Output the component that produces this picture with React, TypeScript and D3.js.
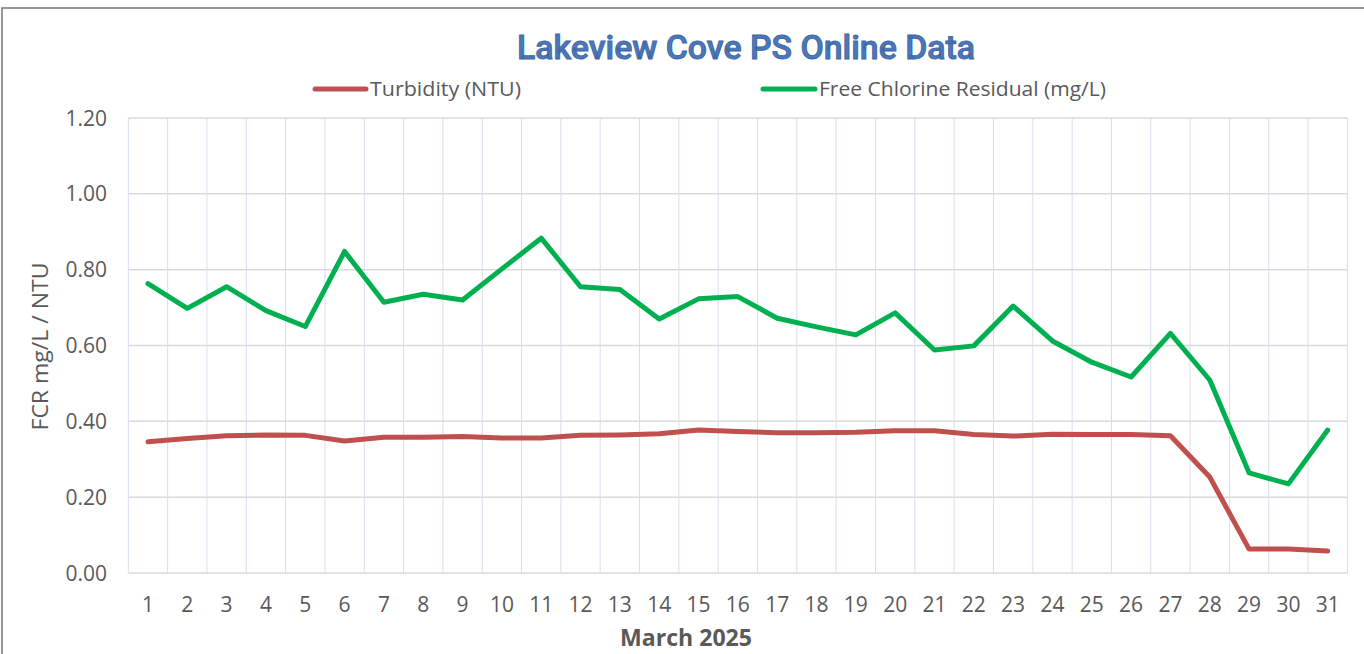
import * as d3 from "d3";

const days = d3.range(1, 32).map(String);

const turbidity = [
  0.346, 0.355, 0.362, 0.364, 0.363, 0.348, 0.358, 0.358, 0.36, 0.356, 0.356,
  0.363, 0.364, 0.367, 0.377, 0.373, 0.37, 0.37, 0.371, 0.375, 0.375, 0.365,
  0.361, 0.366, 0.365, 0.365, 0.362, 0.253, 0.063, 0.063, 0.058,
];

const chlorine = [
  0.763, 0.698, 0.755, 0.692, 0.65, 0.848, 0.714, 0.735, 0.72, 0.802, 0.883,
  0.755, 0.748, 0.67, 0.723, 0.729, 0.672, 0.649, 0.628, 0.686, 0.588, 0.599,
  0.704, 0.612, 0.556, 0.517, 0.632, 0.509, 0.264, 0.235, 0.377,
];

const yTicks = [0, 0.2, 0.4, 0.6, 0.8, 1.0, 1.2];

const series = [
  { name: "Turbidity (NTU)", values: turbidity, color: "#c0504d" },
  { name: "Free Chlorine Residual (mg/L)", values: chlorine, color: "#00b050" },
];

const width = 1364;
const height = 654;
const marginLeft = 128.3;
const marginRight = 16.6;
const marginTop = 118;
const marginBottom = 81;
const font = "'Open Sans', 'Noto Sans', sans-serif";
const textColor = "#595959";

export default function App() {
  const x = d3.scaleBand(days, [marginLeft, width - marginRight]);
  const y = d3.scaleLinear([0, 1.2], [height - marginBottom, marginTop]);
  const cx = (i: number) => (x(days[i]) as number) + x.bandwidth() / 2;
  const line = d3.line<number>((d, i) => cx(i), (d) => y(d));

  const left = marginLeft;
  const right = width - marginRight;
  const bottom = height - marginBottom;
  const vLines = [...days.map((d) => x(d) as number), right];

  return (
    <svg
      width={width}
      height={height}
      style={{ position: "absolute", left: 0, top: 0, background: "#fff" }}
    >
      <rect x={2} y={8} width={width + 10} height={height + 10} fill="#fff" stroke="#767676" strokeWidth={1.5} />

      <text
        x={746}
        y={59}
        textAnchor="middle"
        fontFamily="Roboto, sans-serif"
        fontWeight={500}
        fontSize={33}
        fill="#4a78bd"
        stroke="#41669f"
        strokeWidth={0.9}
        textLength={458}
        lengthAdjust="spacingAndGlyphs"
      >
        Lakeview Cove PS Online Data
      </text>

      {/* legend */}
      <g fontFamily={font} fontSize={20} fill={textColor}>
        <line x1={315} x2={366} y1={89} y2={89} stroke={series[0].color} strokeWidth={5} strokeLinecap="round" />
        <text x={370} y={96} textLength={151} lengthAdjust="spacingAndGlyphs">{series[0].name}</text>
        <line x1={763} x2={815} y1={89} y2={89} stroke={series[1].color} strokeWidth={5} strokeLinecap="round" />
        <text x={819} y={96} textLength={287} lengthAdjust="spacingAndGlyphs">{series[1].name}</text>
      </g>

      {/* gridlines */}
      <g>
        {vLines.map((vx, i) => (
          <line key={i} x1={vx} x2={vx} y1={marginTop} y2={bottom} stroke="#d5deee" strokeWidth={1} />
        ))}
        {yTicks.map((t) => (
          <line key={t} x1={left} x2={right} y1={y(t)} y2={y(t)} stroke="#d9d9d9" strokeWidth={1.5} />
        ))}
      </g>

      {/* y axis labels */}
      <g fontFamily={font} fontSize={21} fill={textColor} textAnchor="end">
        {yTicks.map((t) => (
          <text key={t} x={107} y={y(t) + 7.5}>{t.toFixed(2)}</text>
        ))}
      </g>
      <text
        transform={`translate(48,${(marginTop + bottom) / 2 + 1}) rotate(-90)`}
        textAnchor="middle"
        fontFamily={font}
        fontSize={22}
        fill={textColor}
        textLength={168}
        lengthAdjust="spacingAndGlyphs"
      >
        FCR mg/L / NTU
      </text>

      {/* x axis labels */}
      <g fontFamily={font} fontSize={21} fill={textColor} textAnchor="middle">
        {days.map((d, i) => (
          <text key={d} x={cx(i)} y={612}>{d}</text>
        ))}
      </g>
      <text
        x={686}
        y={646}
        textAnchor="middle"
        fontFamily={font}
        fontWeight={700}
        fontSize={23}
        fill={textColor}
        textLength={132}
        lengthAdjust="spacingAndGlyphs"
      >
        March 2025
      </text>

      {/* series */}
      {series.map((s) => (
        <path
          key={s.name}
          d={line(s.values) ?? ""}
          fill="none"
          stroke={s.color}
          strokeWidth={5}
          strokeLinejoin="round"
          strokeLinecap="round"
        />
      ))}
    </svg>
  );
}
